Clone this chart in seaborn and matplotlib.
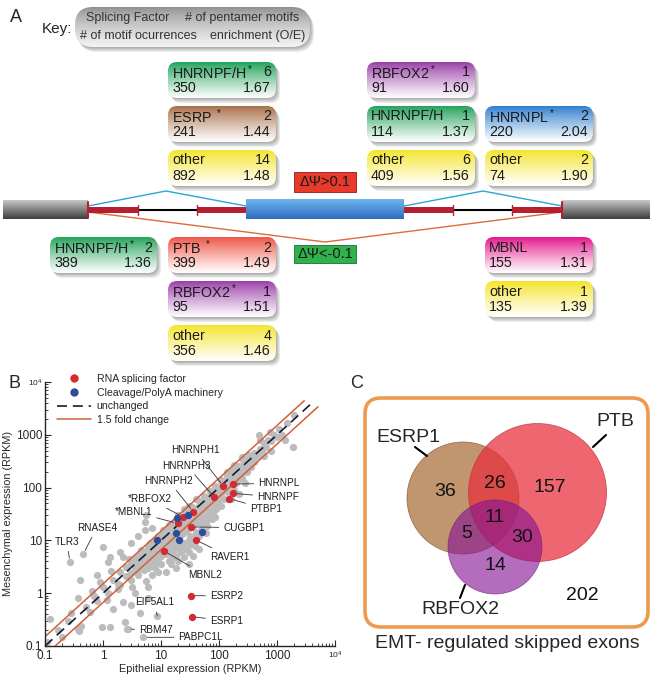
import numpy as np
import seaborn as sns
import matplotlib.pyplot as plt
from matplotlib.patches import FancyBboxPatch, Rectangle, Circle
from matplotlib.lines import Line2D
from matplotlib.colors import to_rgb

# -----------------------------
# Panel A data: motif boxes
# -----------------------------
box_names = ["HNRNPF/H", "ESRP", "other", "RBFOX2", "HNRNPF/H", "other", "HNRNPL", "other",
             "HNRNPF/H", "PTB", "RBFOX2", "other", "MBNL", "other"]
box_stars = ["$^*$", " $^*$", "", "$^*$", "", "", "$^*$", "",
             "$^*$", " $^*$", "$^*$", "", "", ""]
box_motifs = [6, 2, 14, 1, 1, 6, 2, 2, 2, 2, 1, 4, 1, 1]
box_counts = [350, 241, 892, 91, 114, 409, 220, 74, 389, 399, 95, 356, 155, 135]
box_oe = ["1.67", "1.44", "1.48", "1.60", "1.37", "1.56", "2.04", "1.90",
          "1.36", "1.49", "1.51", "1.46", "1.31", "1.39"]
box_colors = ["#22a35a", "#a8704a", "#f4e42c", "#9a3fa8", "#22a35a", "#f4e42c", "#2f7fcf", "#f4e42c",
              "#22a35a", "#ef5446", "#9a3fa8", "#f4e42c", "#e5168c", "#f4e42c"]
# layout (pixels from top-left)
box_x = [168, 168, 168, 367, 367, 367, 485, 485, 50, 168, 168, 168, 485, 485]
box_y = [62, 106, 150, 62, 106, 150, 106, 150, 237, 237, 281, 325, 237, 281]

# -----------------------------
# Panel B data: expression (RPKM)
# -----------------------------
gray_x = [0.12, 0.11, 0.37, 0.4, 0.37, 0.39, 0.42, 0.95, 1.3, 2.7, 2.4, 0.5, 0.6, 0.7, 0.8, 0.65,
          1.0, 1.2, 0.9, 1.16, 2.2, 4.3, 1.0, 1.3, 2.0, 1.23, 2.2, 5.3, 6.9, 5.3, 5.6, 0.28, 0.25,
          0.17, 0.2, 1.5, 3.0, 6.0, 3.5, 1.4, 0.8, 3.0, 4.0, 1.8,
          1.5, 1.8, 2, 2.5, 2.5, 3, 3, 3.5, 3.5, 4, 4, 4.5, 5, 5, 5.5, 6, 6, 6.5, 7, 7, 7.5, 8, 8,
          8.5, 9, 9, 2, 3, 4, 5, 6, 7, 8, 9, 3.2, 5.5, 7, 9, 6, 4.5, 6.5, 2.8,
          10, 10, 11, 12, 12, 13, 14, 15, 15, 16, 17, 18, 18, 20, 20, 22, 23, 25, 25, 27, 28, 30,
          30, 33, 35, 35, 38, 40, 42, 45, 45, 50, 50, 55, 60, 60, 65, 70, 70, 75, 80, 85, 90, 90, 95,
          10, 12, 14, 15, 17, 18, 20, 22, 24, 25, 28, 30, 30, 32, 35, 38, 40, 45, 50, 50, 55, 60,
          65, 70, 80, 90, 15, 20, 25, 30, 35, 12, 18, 10, 45, 60, 11, 14, 20, 30, 40, 25,
          100, 110, 120, 130, 140, 150, 160, 170, 180, 200, 200, 220, 250, 270, 300, 320, 350, 380,
          400, 450, 480, 500, 550, 600, 650, 700, 760, 800, 900, 1000, 1100, 1370, 1500, 1900, 2000,
          120, 150, 180, 200, 250, 300, 350, 400, 220, 280, 600, 800, 140, 250, 180, 500, 1200,
          100, 130, 110, 160,
          0.27, 0.457, 8.6, 2.6, 4.95]
gray_y = [0.33, 0.12, 0.8, 1.78, 0.21, 0.19, 0.24, 0.23, 0.23, 0.21, 0.29, 0.55, 0.45, 0.9, 0.7, 1.1,
          1.3, 1.0, 1.6, 0.74, 0.69, 0.42, 7.6, 4.9, 6.1, 3.9, 4.9, 22.6, 16.9, 15.7, 30, 0.42, 0.3,
          0.2, 0.15, 0.5, 0.6, 0.8, 1.0, 2.6, 2.2, 9, 12, 1.2,
          1.8, 1.5, 2.5, 2.1, 3.2, 2.4, 3.8, 2.9, 4.5, 3.2, 5, 3.6, 4, 6, 4.5, 5, 7.5, 4.8, 6, 8.5, 5,
          7, 10, 6, 8, 5.5, 1.4, 1.8, 2.2, 2.8, 3, 3.5, 4, 3.8, 1.3, 1.7, 2.2, 2.5, 1.3, 6.5, 9, 4.5,
          9, 12, 8, 10, 14, 7, 11, 13, 9, 17, 12, 10, 20, 15, 22, 18, 13, 20, 28, 16, 24, 22,
          32, 26, 30, 18, 35, 30, 22, 40, 28, 45, 35, 32, 50, 40, 55, 60, 45, 65, 50, 70, 80, 60, 50,
          5, 5.5, 6, 4.5, 7, 5, 8, 6, 9, 7, 8, 10, 6, 12, 11, 8, 14, 12, 16, 20, 24, 22,
          28, 30, 35, 40, 3.5, 4, 4.8, 3.5, 5, 2.5, 3, 3.6, 7, 14, 16, 20, 30, 45, 60, 40,
          90, 130, 100, 140, 120, 110, 180, 150, 200, 170, 240, 190, 260, 230, 320, 280, 400, 330,
          450, 400, 990, 550, 480, 700, 580, 800, 1150, 750, 1000, 900, 1300, 790, 1700, 590, 2400,
          60, 80, 90, 120, 150, 200, 250, 300, 75, 120, 400, 500, 200, 380, 270, 800, 1000,
          65, 85, 45, 60,
          3.85, 5.5, 0.37, 0.21, 0.146]
# dense part of the cloud along the diagonal
band_pts = [(3.5, 3.5), (4, 4.2), (4.5, 4.6), (5, 5), (5.5, 5.8), (6, 6.2), (6.5, 6.4), (7, 7.2),
            (7.5, 7.5), (8, 8.2), (8.5, 8.8), (9, 9.2), (9.5, 9.6), (10, 10.5), (11, 11), (12, 12.2),
            (13, 13), (14, 14.3), (15, 15.5), (16, 15), (17, 17.5), (19, 18), (21, 20), (23, 22),
            (24, 25), (26, 26), (29, 28), (31, 30), (34, 33), (37, 36), (41, 40), (44, 43), (48, 47),
            (52, 50), (57, 55), (62, 60), (68, 66), (74, 72), (82, 80), (95, 92), (105, 100),
            (115, 110), (125, 122), (135, 130), (145, 150), (165, 160), (185, 180), (210, 200),
            (230, 225), (260, 250), (290, 280), (330, 320),
            (11, 7), (13, 8.5), (16, 9.5), (19, 11), (21, 12), (24, 14), (27, 15), (30, 17), (33, 19),
            (36, 21), (40, 24), (44, 26), (48, 30), (53, 33), (58, 36), (64, 40), (72, 45), (78, 52),
            (88, 58), (98, 62), (110, 75), (125, 85), (140, 95), (160, 105), (180, 120), (210, 140),
            (240, 170), (14, 4), (17, 5.5), (21, 7), (26, 9), (30, 8.2), (37, 10), (42, 12), (47, 15),
            (55, 18), (62, 19), (75, 25), (85, 28), (8, 3), (9, 4.5), (10, 6.5), (7, 4.5), (6, 4),
            (5, 3.5), (4, 2.8),
            (9, 12), (13, 17), (17, 22), (22, 28), (27, 35), (34, 42), (45, 55), (55, 70), (70, 85),
            (85, 105), (110, 140), (140, 170), (170, 220), (210, 260), (260, 330), (330, 420)]

red_x = [119, 172, 175, 151, 82, 36, 23.7, 19.4, 32.9, 40, 11.3, 32.5, 34]
red_y = [107, 117, 78, 62, 67, 35, 28, 21, 18, 10.2, 6.3, 0.90, 0.36]
blue_x = [28.8, 18.6, 18, 8.4, 20.7, 50]
blue_y = [30, 26, 14, 10.2, 10.2, 14.6]

ann_names = ["HNRNPH1", "HNRNPH3", "HNRNPH2", "*RBFOX2", "*MBNL1", "HNRNPL", "HNRNPF", "PTBP1",
             "CUGBP1", "RAVER1", "MBNL2", "ESRP2", "ESRP1", "EIF5AL1", "RBM47", "PABPC1L",
             "TLR3", "RNASE4"]
ann_tx = [38.5, 27.7, 13.7, 6.46, 3.33, 477, 455, 342, 119, 70, 29.6, 70, 70, 7.9, 4.2, 19.9, 0.237, 0.78]
ann_ty = [515, 260, 133, 60, 35, 120, 65.5, 38.8, 17.4, 4.9, 2.2, 0.885, 0.30, 0.67, 0.20, 0.146, 9.4, 17.4]
ann_px = [119, 82, 36, 23.7, 19.4, 172, 175, 151, 32.9, 40, 11.3, 32.5, 34, 8.6, 2.6, 4.95, 0.27, 0.457]
ann_py = [107, 67, 35, 28, 21, 117, 78, 62, 18, 10.2, 6.3, 0.90, 0.36, 0.37, 0.21, 0.146, 3.85, 5.5]
ann_ha = ["center", "center", "center", "center", "center", "left", "left", "left",
          "left", "left", "left", "left", "left", "center", "left", "left", "center", "center"]

fold_change = 1.5

# -----------------------------
# Panel C data: Venn counts
# -----------------------------
venn_sets = ["ESRP1", "PTB", "RBFOX2"]
venn_counts = [36, 26, 157, 11, 5, 30, 14, 202]
venn_title = "EMT- regulated skipped exons"

# -----------------------------
# Figure setup
# -----------------------------
sns.set_style("ticks")
plt.rcParams['font.family'] = ['Liberation Sans', 'DejaVu Sans']
plt.rcParams['mathtext.fontset'] = 'custom'
plt.rcParams['mathtext.rm'] = 'Liberation Sans'
plt.rcParams['mathtext.default'] = 'regular'

fig = plt.figure(figsize=(6.52, 6.76), dpi=100)
ax0 = fig.add_axes([0, 0, 1, 1])
ax0.set_xlim(0, 652)
ax0.set_ylim(676, 0)
ax0.axis('off')


def grad_fill(patch, x, y, w, h, c_top, c_bot, z, power=1.0):
    t = np.linspace(0, 1, 100)[:, None, None] ** power
    top = np.array(to_rgb(c_top))[None, None, :]
    bot = np.array(to_rgb(c_bot))[None, None, :]
    img = top * (1 - t) + bot * t
    im = ax0.imshow(img, extent=(x, x + w, y + h, y), origin='upper', aspect='auto',
                    zorder=z, interpolation='bilinear')
    im.set_clip_path(patch)


def round_box(x, y, w, h, c_top, c_bot="white", r=9, z=3, power=1.0):
    for k in range(1, 6):
        sh = FancyBboxPatch((x + 0.8 * k, y + 1.0 * k), w, h,
                            boxstyle=f"round,pad=0,rounding_size={r}",
                            fc='black', ec='none', alpha=0.07, zorder=z - 1)
        ax0.add_patch(sh)
    patch = FancyBboxPatch((x, y), w, h, boxstyle=f"round,pad=0,rounding_size={r}",
                           fc='none', ec='none', zorder=z)
    ax0.add_patch(patch)
    grad_fill(patch, x, y, w, h, c_top, c_bot, z, power)


# -----------------------------
# Panel A
# -----------------------------
ax0.text(10, 18, "A", fontsize=13, va='center', ha='left')
ax0.text(42, 29, "Key:", fontsize=11, va='center', ha='left', color='#222222')
round_box(75, 7, 235, 40, "#8c8c8c", "#f4f4f4", r=18, power=0.7)
ax0.text(86, 18, "Splicing Factor", fontsize=9, va='center', ha='left', color='#333333', zorder=5)
ax0.text(299, 18, "# of pentamer motifs", fontsize=9, va='center', ha='right', color='#333333', zorder=5)
ax0.text(80, 36, "# of motif ocurrences", fontsize=9, va='center', ha='left', color='#333333', zorder=5)
ax0.text(305, 36, "enrichment (O/E)", fontsize=9, va='center', ha='right', color='#333333', zorder=5)

bw, bh = 108, 36
for i in range(len(box_names)):
    x, y = box_x[i], box_y[i]
    w = bw if box_x[i] != 50 else 107
    round_box(x, y, w, bh, box_colors[i], "white", r=9, power=0.9)
    ax0.text(x + 4, y + 10.5, box_names[i] + box_stars[i], fontsize=10.3, va='center', ha='left',
             color='#1a1a1a', zorder=5)
    ax0.text(x + w - 5, y + 10.5, str(box_motifs[i]), fontsize=10.3, va='center', ha='right',
             color='#1a1a1a', zorder=5)
    ax0.text(x + 4, y + 26, str(box_counts[i]), fontsize=10.3, va='center', ha='left',
             color='#1a1a1a', zorder=5)
    ax0.text(x + w - 5, y + 26, box_oe[i], fontsize=10.3, va='center', ha='right',
             color='#1a1a1a', zorder=5)

# gene model
for gx0, gx1 in [(3, 88), (562, 650)]:
    rect = Rectangle((gx0, 200), gx1 - gx0, 19, fc='none', ec='none', zorder=3)
    ax0.add_patch(rect)
    grad_fill(rect, gx0, 200, gx1 - gx0, 19, "#c8c8c8", "#3c3c3c", 3)
rect = Rectangle((246, 199), 158, 20, fc='none', ec='none', zorder=3)
ax0.add_patch(rect)
grad_fill(rect, 246, 199, 158, 20, "#6db6ee", "#2f6cc0", 3)

ax0.plot([138, 197], [210, 210], color='black', lw=1.5, zorder=2)
ax0.plot([453, 512], [210, 210], color='black', lw=1.5, zorder=2)
for sx0, sx1 in [(88, 138), (197, 246), (404, 453), (512, 562)]:
    ax0.add_patch(Rectangle((sx0, 207), sx1 - sx0, 6, fc='#b51f2e', ec='none', zorder=3))
for tx in [138, 197, 453, 512]:
    ax0.plot([tx, tx], [205, 215], color='#b51f2e', lw=1, zorder=3)
for tx in [88, 562]:
    ax0.plot([tx, tx], [202, 218], color='#b51f2e', lw=1.5, zorder=4)

ax0.plot([88, 166, 246], [206, 191, 206], color='#2aa6d6', lw=1, zorder=2)
ax0.plot([404, 483, 562], [206, 191, 206], color='#2aa6d6', lw=1, zorder=2)
ax0.plot([88, 325, 562], [212, 242, 212], color='#e0683a', lw=1, zorder=2)

ax0.add_patch(Rectangle((294, 172), 62, 20, fc='#e8392b', ec='#8b1a1a', lw=0.6, zorder=3))
ax0.text(325, 182.5, "ΔΨ>0.1", fontsize=10.5, ha='center', va='center', color='#1a1a1a', zorder=4)
ax0.add_patch(Rectangle((294, 245), 62, 18, fc='#2fb24b', ec='#1c6e30', lw=0.6, zorder=3))
ax0.text(325, 254.5, "ΔΨ<-0.1", fontsize=10.5, ha='center', va='center', color='#1a1a1a', zorder=4)

# -----------------------------
# Panel B
# -----------------------------
ax0.text(8, 384, "B", fontsize=13, va='center', ha='left')
axB = fig.add_axes([45 / 652, 30 / 676, 290 / 652, 264 / 676])
axB.set_facecolor('none')
axB.set_xscale('log')
axB.set_yscale('log')

band_x = [p[0] for p in band_pts]
band_y = [p[1] for p in band_pts]
sns.scatterplot(x=gray_x + band_x, y=gray_y + band_y, color='#bcbcbc', s=27, linewidth=0,
                ax=axB, legend=False, zorder=1)
line_x = np.array([0.1, 4200])
axB.plot(line_x, line_x, color='#1a1a2e', lw=1.2, ls=(0, (6, 3.5)), zorder=2)
axB.plot([0.1, 2950], [0.1 * fold_change, 2950 * fold_change], color='#d2603a', lw=1.1, zorder=2)
axB.plot([0.1 * fold_change, 5100], [0.1, 5100 / fold_change], color='#d2603a', lw=1.1, zorder=2)
sns.scatterplot(x=red_x, y=red_y, color='#d42a34', s=28, linewidth=0, ax=axB, legend=False, zorder=4)
sns.scatterplot(x=blue_x, y=blue_y, color='#2e4c9c', s=28, linewidth=0, ax=axB, legend=False, zorder=4)

for i, name in enumerate(ann_names):
    axB.annotate(name, xy=(ann_px[i], ann_py[i]), xytext=(ann_tx[i], ann_ty[i]),
                 fontsize=7.2, ha=ann_ha[i], va='center', color='#1a1a1a',
                 arrowprops=dict(arrowstyle='-', lw=0.6, color='#333333', shrinkA=1, shrinkB=3),
                 zorder=5)

axB.set_xlim(0.1, 1e4)
axB.set_ylim(0.1, 1e4)
ticks = [0.1, 1, 10, 100, 1000, 10000]
tick_labels = ["0.1", "1", "10", "100", "1000", "$10^4$"]
axB.set_xticks(ticks)
axB.set_xticklabels(tick_labels)
axB.set_yticks(ticks)
axB.set_yticklabels(tick_labels)
axB.tick_params(which='major', direction='in', length=4, width=0.8, labelsize=8.5, pad=2)
axB.tick_params(axis='x', which='major', pad=3)
axB.tick_params(which='minor', direction='in', length=2, width=0.6)
for lab in axB.get_xticklabels()[-1:] + axB.get_yticklabels()[-1:]:
    lab.set_fontsize(6)
sns.despine(ax=axB)
axB.spines['left'].set_linewidth(1)
axB.spines['bottom'].set_linewidth(1)
axB.set_xlabel("Epithelial expression (RPKM)", fontsize=7.8)
axB.set_ylabel("Mesenchymal expression (RPKM)", fontsize=7.8)
axB.xaxis.set_label_coords(0.5, -0.068)
axB.yaxis.set_label_coords(-0.11, 0.5)

handles = [Line2D([], [], ls='none', marker='o', color='#d42a34', ms=5),
           Line2D([], [], ls='none', marker='o', color='#2e4c9c', ms=5),
           Line2D([], [], color='#1a1a2e', lw=1.2, ls=(0, (6, 3.5))),
           Line2D([], [], color='#d2603a', lw=1.1)]
axB.legend(handles, ["RNA splicing factor", "Cleavage/PolyA machinery", "unchanged", "1.5 fold change"],
           loc='upper left', bbox_to_anchor=(0.04, 1.03), frameon=False, fontsize=7.6,
           handlelength=3.3, handletextpad=0.5, labelspacing=0.35, borderpad=0, borderaxespad=0)

# -----------------------------
# Panel C
# -----------------------------
ax0.text(350, 384, "C", fontsize=13, va='center', ha='left')
ax0.add_patch(FancyBboxPatch((365, 398), 283, 229, boxstyle="round,pad=0,rounding_size=16",
                             fc='none', ec='#ee9a4e', lw=2.6, zorder=2))
ax0.add_patch(Circle((463, 498), 56, fc='#ad723d', ec='#8a5a35', lw=0.6, alpha=0.75, zorder=3))
ax0.add_patch(Circle((537.5, 492.5), 69, fc='#e8303e', ec='#c03040', lw=0.6, alpha=0.74, zorder=3))
ax0.add_patch(Circle((495, 547), 47, fc='#861394', ec='#70207a', lw=0.6, alpha=0.62, zorder=3))

venn_xy = [(445, 492), (495, 483), (550, 487), (495, 518), (467, 533), (522, 538), (495, 565), (582, 595)]
for (vx, vy), cnt in zip(venn_xy, venn_counts):
    ax0.text(vx, vy, str(cnt), fontsize=14, ha='center', va='center', color='#111111', zorder=5)

ax0.text(408, 437, venn_sets[0], fontsize=14, ha='center', va='center', zorder=5)
ax0.plot([415, 427], [447, 456], color='black', lw=1.5, zorder=5)
ax0.text(615, 422, venn_sets[1], fontsize=14, ha='center', va='center', zorder=5)
ax0.plot([606, 593], [435, 447], color='black', lw=1.5, zorder=5)
ax0.text(460, 610, venn_sets[2], fontsize=14, ha='center', va='center', zorder=5)
ax0.plot([465, 460], [585, 598], color='black', lw=1.5, zorder=5)
ax0.text(507, 643, venn_title, fontsize=14, ha='center', va='center', zorder=5)

ax0.set_xlim(0, 652)
ax0.set_ylim(676, 0)
fig.savefig("out.png", dpi=100)
